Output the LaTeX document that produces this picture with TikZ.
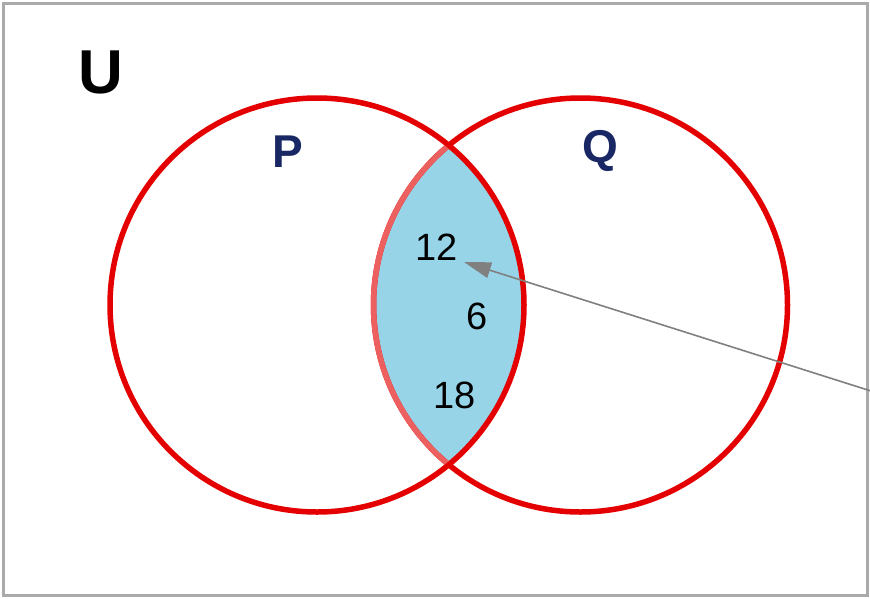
\documentclass[tikz,border=0pt]{standalone}
\usepackage{fontspec}
\setmainfont{Liberation Sans}
\usetikzlibrary{arrows.meta}
\definecolor{vred}{RGB}{228,0,0}
\definecolor{lensred}{RGB}{236,96,96}
\definecolor{lensblue}{RGB}{152,212,232}
\definecolor{navy}{RGB}{25,40,100}
\definecolor{framegray}{RGB}{170,170,170}
\definecolor{arrowgray}{RGB}{128,128,128}
\tikzset{
  setcircle/.style={circle, minimum size=414pt, inner sep=0pt},
  setlabel/.style={text=navy, font=\bfseries\fontsize{46}{48}\selectfont, inner sep=0pt},
  numlabel/.style={text=black, font=\fontsize{38}{40}\selectfont, inner sep=0pt},
}
\begin{document}
\begin{tikzpicture}[x=1pt,y=-1pt]
\useasboundingbox (0,0) rectangle (870,598);
\fill[white] (0,0) rectangle (870,598);
\draw[framegray, line width=3pt] (3,3) rectangle (867,595);
% lens fill
\begin{scope}
  \clip (317,305) circle (207);
  \fill[lensblue] (580.5,305) circle (207);
\end{scope}
% circles
\node[setcircle, draw=vred, line width=5.5pt] (P) at (317,305) {};
\node[setcircle, draw=vred, line width=5.5pt] (Q) at (580.5,305) {};
\begin{scope}
  \clip (317,305) circle (204.3);
  \draw[lensred, line width=5.5pt] (580.5,305) circle (207);
\end{scope}
% labels
\node[font=\bfseries\fontsize{62}{64}\selectfont, inner sep=0pt] (U) at (101,72) {U};
\node[setlabel] (Pl) at (288,152) {P};
\node[setlabel] (Ql) at (600,151) {Q};
\node[numlabel] (n12) at (436.5,247) {12};
\node[numlabel] (n6) at (477,316) {6};
\node[numlabel] (n18) at (455,395) {18};
% pointer
\coordinate (tip) at (464,262);
\coordinate (tail) at (871,391);
\draw[arrowgray, line width=1.6pt, -{Triangle[length=27pt,width=16pt]}] (tail) -- (tip);
\end{tikzpicture}
\end{document}
